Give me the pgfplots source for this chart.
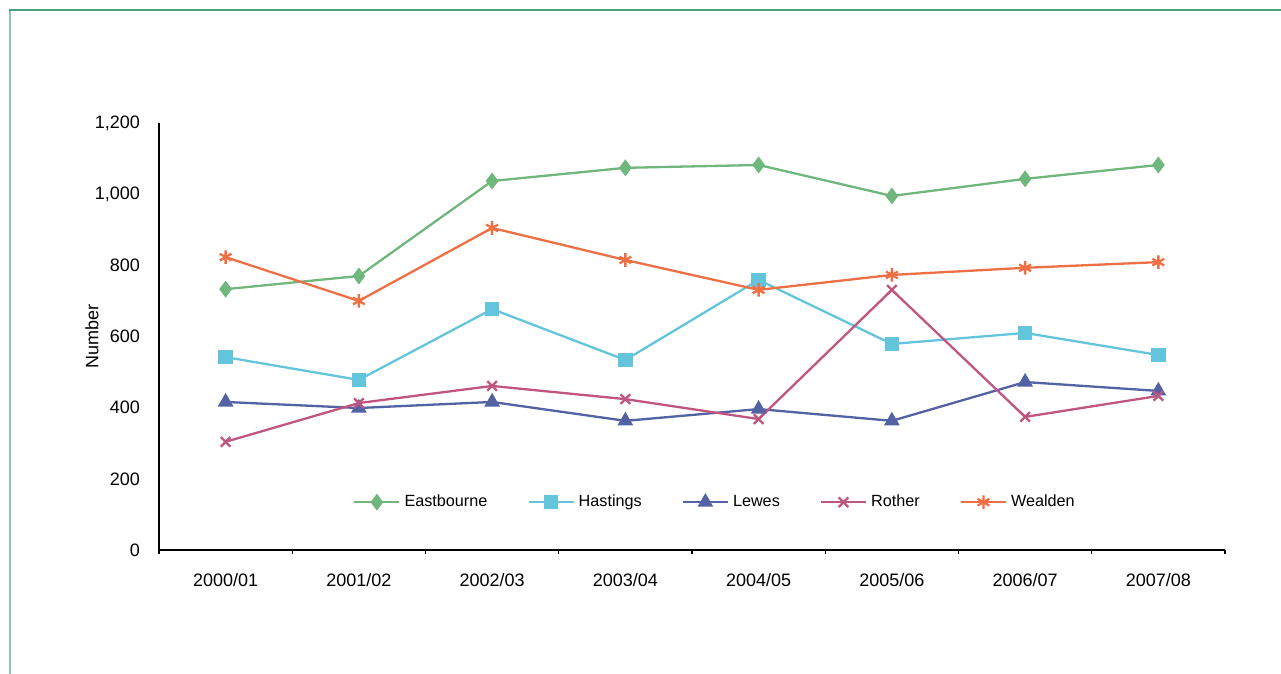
\documentclass[border=0pt]{standalone}
\usepackage{pgfplots}
\pgfplotsset{compat=1.18}
\usepackage{fontspec}
\setmainfont{Liberation Sans}
\definecolor{cE}{HTML}{70B77E}
\definecolor{cH}{HTML}{63C5DC}
\definecolor{cL}{HTML}{5262A3}
\definecolor{cR}{HTML}{C0567F}
\definecolor{cW}{HTML}{EF6F45}
\definecolor{frameL}{HTML}{8CC4B0}
\definecolor{frameT}{HTML}{4A9F7C}
\begin{document}
\begin{tikzpicture}
\path[use as bounding box] (0,0) rectangle (640.5pt,337pt);
\draw[frameL, line width=1pt] (5pt,-1pt) -- (5pt,332pt);
\draw[frameT, line width=1pt] (4.5pt,332pt) -- (642pt,332pt);
\begin{axis}[
  scale only axis,
  at={(79.5pt,62pt)}, anchor=south west,
  width=533pt, height=213.5pt,
  xmin=-0.5, xmax=7.5, ymin=0, ymax=1200,
  axis x line=bottom, axis y line=left,
  axis line style={-, line width=1pt, black},
  xtick={0,...,7},
  xticklabels={2000/01,2001/02,2002/03,2003/04,2004/05,2005/06,2006/07,2007/08},
  minor xtick={-0.5,0.5,...,7.5},
  major tick length=0pt,
  minor tick length=2pt,
  tick style={black, line width=0.6pt},
  minor tick style={black, line width=0.6pt, yshift=-1pt},
  ytick={0,200,...,1200},
  /pgf/number format/1000 sep={,},
  /pgf/number format/assume math mode=true,
  ticklabel style={font=\fontsize{9}{10}\selectfont},
  xticklabel style={yshift=-8pt},
  yticklabel style={xshift=-6pt},
  ylabel={Number},
  ylabel style={font=\fontsize{9}{10}\selectfont, at={(axis description cs:-0.0629,0.5)}, anchor=center},
  legend columns=5,
  legend style={draw=none, fill=none, at={(axis description cs:0.5225,0.112)}, anchor=center,
    font=\fontsize{8.1}{10}\selectfont, /tikz/every even column/.append style={column sep=18pt}},
  legend image code/.code={\draw[#1] (0pt,0pt) -- (22.5pt,0pt); \draw[#1, mark repeat=1] plot coordinates {(11.25pt,0pt)};},
  every axis plot/.append style={line width=1.15pt},
]
\addplot[cE, mark=diamond*, mark size=3.3pt, mark options={solid}] coordinates {(0,733) (1,770) (2,1037) (3,1074) (4,1082) (5,995) (6,1043) (7,1082)};
\addlegendentry{Eastbourne}
\addplot[cH, mark=square*, mark size=3pt] coordinates {(0,542) (1,478) (2,677) (3,534) (4,759) (5,579) (6,610) (7,548)};
\addlegendentry{Hastings}
\addplot[cL, mark=triangle*, mark size=3.4pt] coordinates {(0,416) (1,399) (2,416) (3,363) (4,396) (5,363) (6,472) (7,447)};
\addlegendentry{Lewes}
\addplot[cR, mark=x, mark size=3.4pt] coordinates {(0,304) (1,413) (2,461) (3,424) (4,368) (5,731) (6,374) (7,433)};
\addlegendentry{Rother}
\addplot[cW, mark=asterisk, mark size=3.4pt] coordinates {(0,823) (1,700) (2,905) (3,815) (4,731) (5,773) (6,793) (7,809)};
\addlegendentry{Wealden}
\end{axis}
\end{tikzpicture}
\end{document}
